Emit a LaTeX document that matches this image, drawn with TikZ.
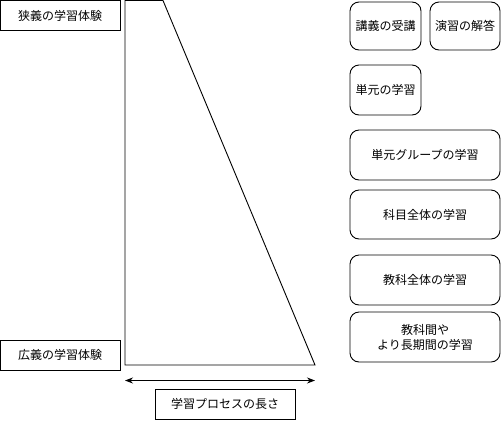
\documentclass[tikz,border=0pt]{standalone}
\usepackage{fontspec}
\setmainfont{Noto Sans CJK JP}
\usetikzlibrary{arrows.meta}
\begin{document}
\begin{tikzpicture}[x=1pt,y=-1pt,
  sq/.style={draw,line width=0.9pt,rectangle,inner sep=0pt,font=\fontsize{12}{15}\selectfont},
  rbox/.style={draw,line width=0.9pt,rounded corners=9pt,inner sep=0pt,align=center,font=\fontsize{12}{15}\selectfont},
  lnk/.style={line width=0.9pt}]
\useasboundingbox (0,0) rectangle (502,421);
% trapezoid
\coordinate (tl) at (125,0.5);
\coordinate (tr) at (163,0.5);
\coordinate (br) at (315,365);
\coordinate (bl) at (125,365);
\draw[lnk] (tl) -- (tr) -- (br) -- (bl) -- cycle;
% left labels
\node[sq,minimum width=120pt,minimum height=30pt] (narrow) at (60,15.5) {狭義の学習体験};
\node[sq,minimum width=120pt,minimum height=30pt] (broad) at (60,355) {広義の学習体験};
% arrow
\coordinate (al) at (125,380.5);
\coordinate (ar) at (315,380.5);
\draw[lnk,{Stealth[length=8pt,width=6pt]}-{Stealth[length=8pt,width=6pt]}] (al) -- (ar);
\node[sq,minimum width=140pt,minimum height=30pt] (len) at (225,404) {学習プロセスの長さ};
% right boxes
\node[rbox,minimum width=71pt,minimum height=48pt] (lec) at (385.5,26) {講義の受講};
\node[rbox,minimum width=70pt,minimum height=48pt] (ex) at (465,26) {演習の解答};
\node[rbox,minimum width=71pt,minimum height=50pt] (unit) at (385.5,90) {単元の学習};
\node[rbox,minimum width=150pt,minimum height=50pt] (ug) at (425,155) {単元グループの学習};
\node[rbox,minimum width=150pt,minimum height=49pt] (subj) at (425,214.5) {科目全体の学習};
\node[rbox,minimum width=150pt,minimum height=50pt] (cat) at (425,280) {教科全体の学習};
\node[rbox,minimum width=150pt,minimum height=50pt] (cross) at (425,337) {教科間や\\より長期間の学習};
\end{tikzpicture}
\end{document}
